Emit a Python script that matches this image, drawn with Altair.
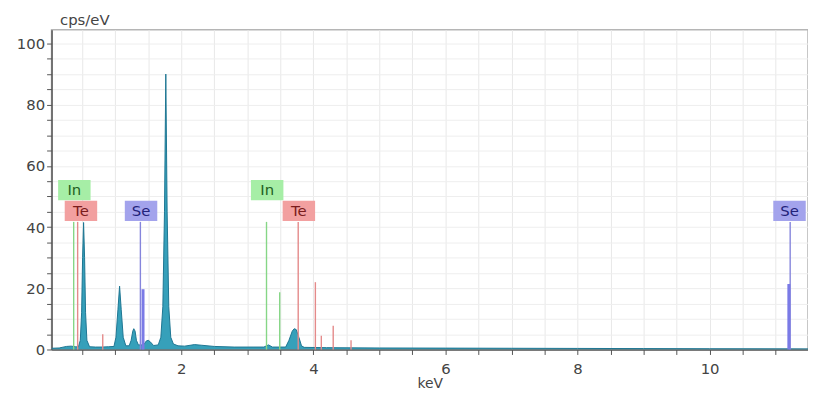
import altair as alt
import pandas as pd

# ---- spectrum (keV, cps/eV) ----
spec_kev = [0.035, 0.15, 0.26, 0.33, 0.40, 0.44, 0.47, 0.49, 0.505, 0.52, 0.535, 0.55, 0.57, 0.61,
            0.70, 0.80, 0.90, 0.98, 1.01, 1.04, 1.065, 1.09, 1.12, 1.16,
            1.21, 1.24, 1.265, 1.28, 1.30, 1.32, 1.35, 1.43, 1.47, 1.50, 1.53, 1.58,
            1.65, 1.69, 1.72, 1.745, 1.765, 1.785, 1.81, 1.84, 1.88, 1.95,
            2.05, 2.20, 2.30, 2.50, 2.80, 3.10, 3.25, 3.32, 3.38, 3.50,
            3.58, 3.63, 3.68, 3.71, 3.74, 3.78, 3.82, 3.86, 4.20, 5.00, 6.00, 7.00, 8.00, 9.00, 10.00, 11.49]
spec_cps = [0.4, 0.5, 1.0, 1.1, 0.9, 0.8, 3.0, 12.0, 30.0, 41.5, 30.0, 12.0, 3.0, 0.9,
            0.8, 0.8, 0.9, 1.0, 4.0, 13.0, 20.7, 13.0, 4.0, 1.2,
            1.2, 3.0, 6.0, 6.8, 6.0, 3.0, 1.5, 1.5, 2.8, 3.0, 2.5, 1.3,
            1.5, 4.0, 14.0, 45.0, 90.0, 45.0, 14.0, 4.0, 1.8, 1.2,
            1.1, 1.6, 1.4, 1.0, 0.8, 0.8, 0.8, 1.5, 0.8, 0.8,
            0.8, 3.0, 6.0, 6.8, 6.5, 4.0, 1.2, 0.7, 0.6, 0.5, 0.45, 0.4, 0.35, 0.3, 0.25, 0.2]

# ---- element marker lines ----
line_kev = [0.37, 0.43, 0.81, 1.38, 3.29, 3.49, 3.77, 4.03, 4.12, 4.30, 4.57, 11.22]
line_cps = [41.7, 41.7, 5.0, 41.7, 41.7, 18.7, 41.7, 22.0, 4.5, 7.8, 3.0, 41.7]
line_elem = ["In", "Te", "Te", "Se", "In", "In", "Te", "Te", "Te", "Te", "Te", "Se"]

bar_kev = [1.42, 11.20]
bar_cps = [19.7, 21.4]
bar_elem = ["Se", "Se"]

# ---- element labels ----
label_text = ["In", "Te", "Se", "In", "Te", "Se"]
label_kev = [0.38, 0.48, 1.39, 3.30, 3.78, 11.21]
label_cps = [52.1, 45.3, 45.3, 52.1, 45.3, 45.3]

x_ticks = [0.5 * i for i in range(1, 23)]
y_ticks = list(range(0, 105, 5))

elems = ["In", "Te", "Se"]
line_colors = ["#86d686", "#e48a8a", "#8585dc"]
bar_colors = ["#86d686", "#e48a8a", "#7a7ae6"]
box_colors = ["#a6eea6", "#f2a0a0", "#a3a3ec"]
text_colors = ["#1f5f1f", "#7a1c1c", "#22227a"]

spec_df = pd.DataFrame({"kev": spec_kev, "cps": spec_cps})
line_df = pd.DataFrame({"kev": line_kev, "cps": line_cps, "elem": line_elem})
bar_df = pd.DataFrame({"kev": bar_kev, "cps": bar_cps, "elem": bar_elem})
label_df = pd.DataFrame({"kev": label_kev, "cps": label_cps, "elem": label_text})

FONT = "DejaVu Sans"
xscale = alt.Scale(domain=[0.035, 11.49], nice=False, zero=False)
yscale = alt.Scale(domain=[0, 104.5], nice=False)

x_axis = alt.Axis(values=x_ticks,
                  labelExpr="datum.value % 2 === 0 ? replace(datum.label, '.0', '') : ''",
                  labelOverlap=False, grid=True, gridColor="#e8e8e8",
                  tickSize=5, tickColor="#555",
                  domainColor="#555", domainWidth=1.5, labelFontSize=15, labelColor="#444",
                  labelFont=FONT, labelPadding=7, title="keV",
                  titleFont=FONT, titleFontSize=14, titleFontWeight="normal",
                  titleColor="#444", titlePadding=0)
y_axis = alt.Axis(values=y_ticks, labelExpr="datum.value % 20 === 0 ? datum.label : ''",
                  labelOverlap=False, grid=True, gridColor="#eeeeee", tickSize=5, tickColor="#555",
                  domainColor="#555", domainWidth=1.5, labelFontSize=15, labelColor="#444",
                  labelFont=FONT, labelPadding=2, title="cps/eV", titleFont=FONT,
                  titleFontSize=15, titleFontWeight="normal", titleColor="#444",
                  titleAngle=0, titleAlign="left", titleBaseline="alphabetic",
                  titleX=8, titleY=-5)

area = alt.Chart(spec_df).mark_area(
    color="#2b9bb6", opacity=0.95, interpolate="linear", clip=True,
    line={"color": "#1d7592", "strokeWidth": 1}
).encode(
    x=alt.X("kev:Q", scale=xscale, axis=x_axis),
    y=alt.Y("cps:Q", scale=yscale, axis=y_axis),
)

rules = alt.Chart(line_df).mark_rule(strokeWidth=1.4).encode(
    x=alt.X("kev:Q", scale=xscale, axis=x_axis),
    y=alt.Y("cps:Q", scale=yscale, axis=y_axis),
    y2=alt.datum(0),
    color=alt.Color("elem:N", scale=alt.Scale(domain=elems, range=line_colors), legend=None),
)

bars = alt.Chart(bar_df).mark_rule(strokeWidth=3).encode(
    x=alt.X("kev:Q", scale=xscale, axis=x_axis),
    y=alt.Y("cps:Q", scale=yscale, axis=y_axis),
    y2=alt.datum(0),
    color=alt.Color("elem:N", scale=alt.Scale(domain=elems, range=bar_colors), legend=None),
)

boxes = alt.Chart(label_df).mark_point(
    shape="M-1.6,-1L1.6,-1L1.6,1L-1.6,1Z", size=420, filled=True, opacity=1, strokeWidth=0
).encode(
    x=alt.X("kev:Q", scale=xscale, axis=x_axis),
    y=alt.Y("cps:Q", scale=yscale, axis=y_axis),
    color=alt.Color("elem:N", scale=alt.Scale(domain=elems, range=box_colors), legend=None),
)

texts = alt.Chart(label_df).mark_text(font=FONT, fontSize=15, baseline="middle", align="center").encode(
    x=alt.X("kev:Q", scale=xscale, axis=x_axis),
    y=alt.Y("cps:Q", scale=yscale, axis=y_axis),
    text="elem:N",
    color=alt.Color("elem:N", scale=alt.Scale(domain=elems, range=text_colors), legend=None),
)

chart = alt.layer(area, rules, bars, boxes, texts).resolve_scale(
    color="independent"
).properties(
    width=764, height=323,
    padding={"left": 44, "top": 20, "right": 0, "bottom": 40},
    autosize=alt.AutoSizeParams(type="none"),
    background="white",
).configure_view(stroke="#b5b5b5", strokeWidth=1.5)

chart.save("out.html", embed_options={"renderer": "svg", "actions": False})
